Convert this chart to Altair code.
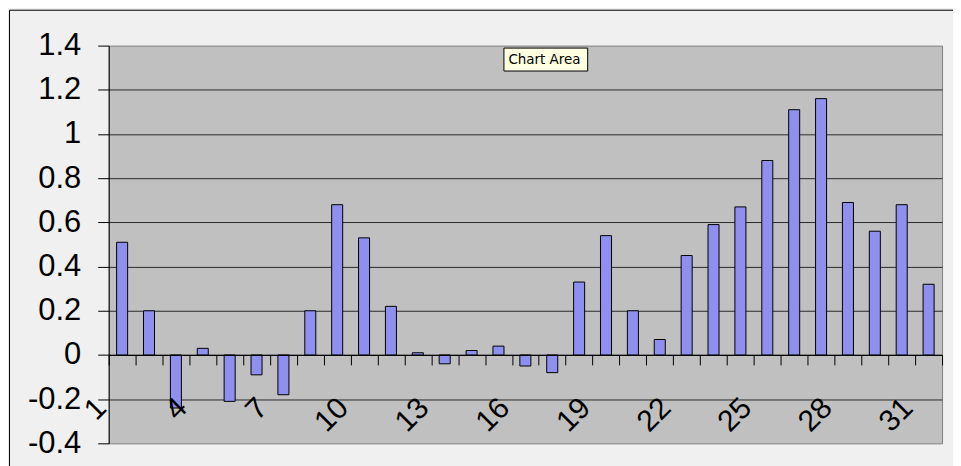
import altair as alt
import pandas as pd

# ---- data ----
days = list(range(1, 32))
values = [0.51, 0.20, -0.24, 0.03, -0.21, -0.09, -0.18, 0.20, 0.68, 0.53,
          0.22, 0.01, -0.04, 0.02, 0.04, -0.05, -0.08, 0.33, 0.54, 0.20,
          0.07, 0.45, 0.59, 0.67, 0.88, 1.11, 1.16, 0.69, 0.56, 0.68, 0.32]
y_ticks = [-0.4, -0.2, 0, 0.2, 0.4, 0.6, 0.8, 1.0, 1.2, 1.4]
tooltip_text = "Chart Area"

df = pd.DataFrame({"day": days, "value": values})

W, H = 836, 399
Y_MIN, Y_MAX = -0.4, 1.4
zero_offset = -H * (0 - Y_MIN) / (Y_MAX - Y_MIN)

FONT = "Liberation Sans"

bars = alt.Chart(df).mark_bar(
    width=alt.RelativeBandSize(0.41),
    fill="#8F8FEF",
    stroke="black",
    strokeWidth=1,
).encode(
    x=alt.X(
        "day:O",
        scale=alt.Scale(paddingInner=0, paddingOuter=0),
        axis=alt.Axis(
            title=None,
            labelAngle=-45,
            labelAlign="right",
            labelBaseline="middle",
            labelFont=FONT,
            labelFontSize=30,
            labelColor="black",
            labelExpr="(datum.value - 1) % 3 == 0 ? datum.label : ''",
            labelOverlap=False,
            labelFlush=False,
            tickBand="extent",
            tickSize=10,
            tickColor="black",
            domainColor="black",
            offset=zero_offset,
            labelPadding=38,
            labelOffset=-21,
            grid=False,
            zindex=1,
        ),
    ),
    y=alt.Y(
        "value:Q",
        scale=alt.Scale(domain=[Y_MIN, Y_MAX], nice=False, zero=False),
        axis=alt.Axis(
            title=None,
            values=y_ticks,
            labelExpr="toString(round(datum.value * 10) / 10)",
            labelFont=FONT,
            labelFontSize=31,
            labelColor="black",
            labelPadding=17,
            tickSize=11,
            tickColor="black",
            domainColor="black",
            gridColor="#2a2a2a",
            gridOpacity=alt.condition(
                "datum.value < -0.3 || datum.value > 1.3", alt.value(0), alt.value(1)
            ),
        ),
    ),
)

one = alt.Data(values=[{}])

frame = alt.Chart(one).mark_rect(
    fill="transparent", stroke="black", strokeWidth=1
).encode(
    x=alt.value(-99.5), x2=alt.value(847.5), y=alt.value(-35.5), y2=alt.value(440)
)

tip_box = alt.Chart(one).mark_rect(
    fill="#FFFFE1", stroke="black", strokeWidth=1
).encode(
    x=alt.value(396.5), x2=alt.value(480.5), y=alt.value(2.5), y2=alt.value(25.5)
)

tip_text = alt.Chart(one).mark_text(
    text=tooltip_text, align="left", baseline="middle",
    font="DejaVu Sans", fontSize=13.5, color="black"
).encode(x=alt.value(401), y=alt.value(14))

chart = alt.layer(bars, frame, tip_box, tip_text).properties(
    width=W,
    height=H,
    padding={"left": 101, "top": 37, "right": 11, "bottom": 22},
    autosize=alt.AutoSizeParams(type="none"),
    background="#F0F0F0",
).configure_view(
    fill="#C0C0C0", stroke="#808080", strokeWidth=1
)

chart.save("out.html", embed_options={"renderer": "svg", "actions": False})
